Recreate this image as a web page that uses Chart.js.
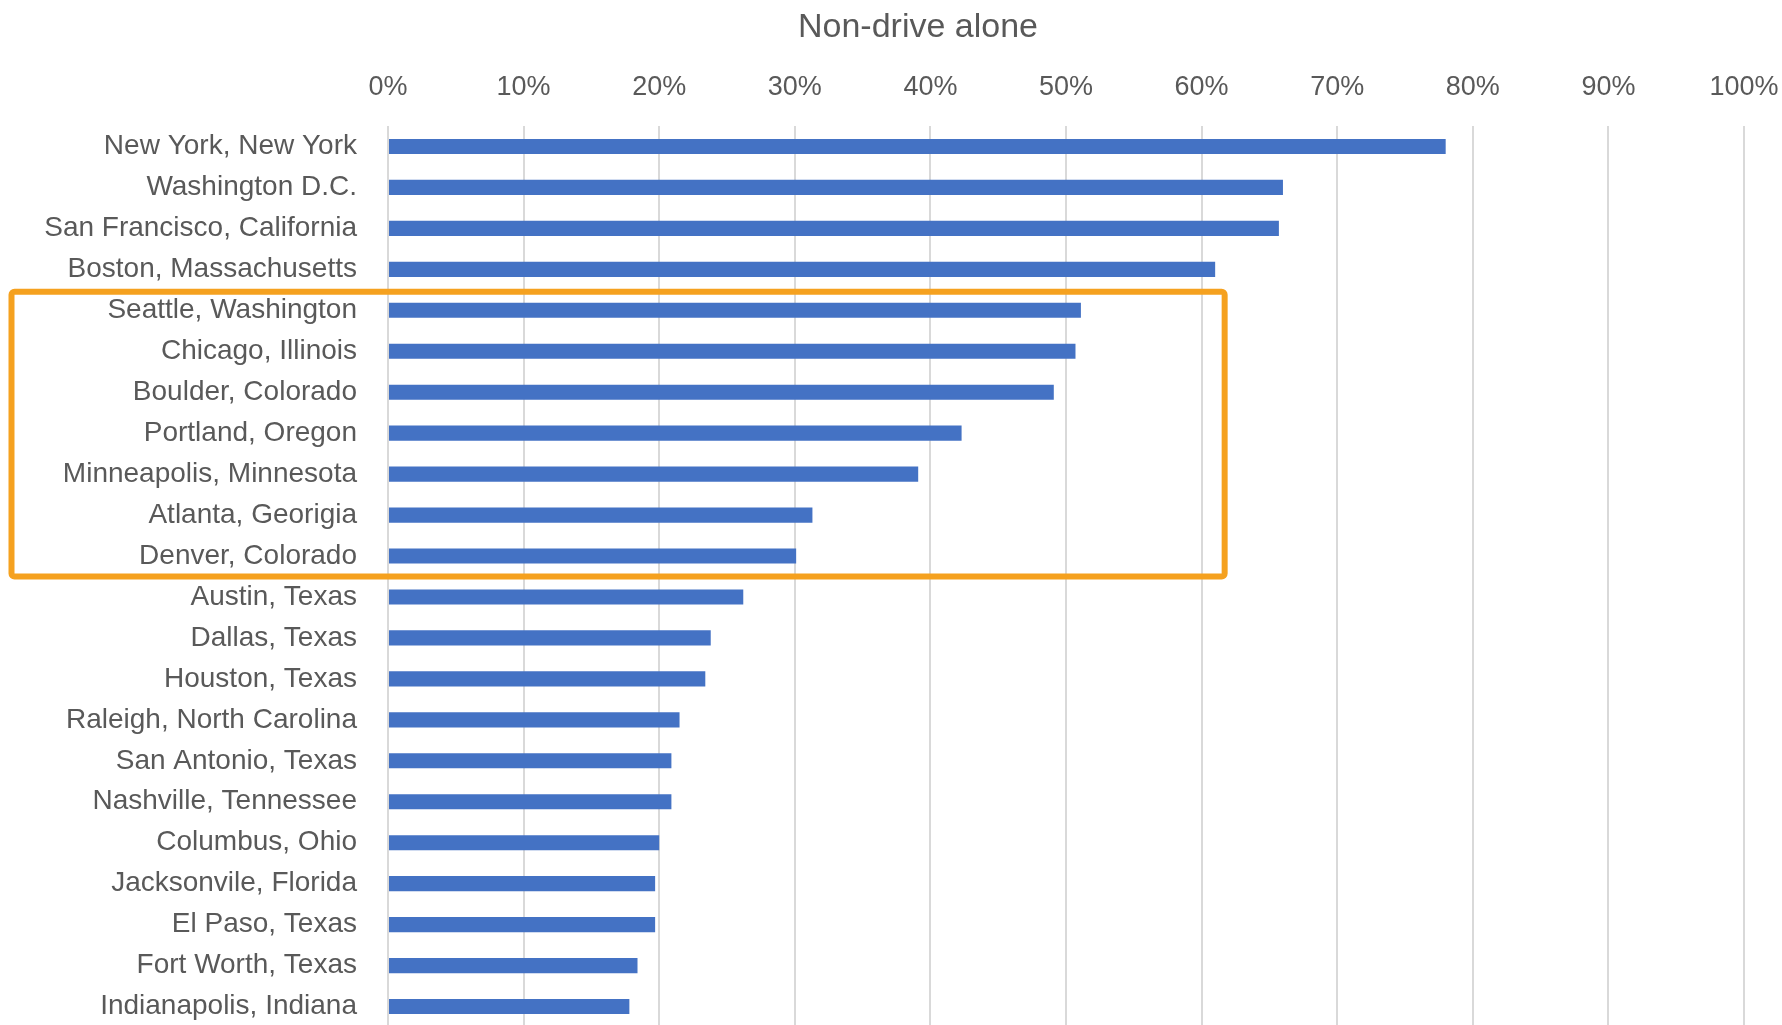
<!DOCTYPE html>
<html>
<head>
<meta charset="utf-8">
<script src="https://cdn.jsdelivr.net/npm/chart.js@4.4.1/dist/chart.umd.min.js"></script>
<style>
  html, body { margin: 0; padding: 0; background: #fff; overflow: hidden; }
  canvas { display: block; }
</style>
</head>
<body>
<canvas id="commuteChart" width="1782" height="1027"></canvas>
<script>
// Share of commuters who do not drive alone, by city

const chartTitle = "Non-drive alone";

const cities = [
  "New York, New York",
  "Washington D.C.",
  "San Francisco, California",
  "Boston, Massachusetts",
  "Seattle, Washington",
  "Chicago, Illinois",
  "Boulder, Colorado",
  "Portland, Oregon",
  "Minneapolis, Minnesota",
  "Atlanta, Georigia",
  "Denver, Colorado",
  "Austin, Texas",
  "Dallas, Texas",
  "Houston, Texas",
  "Raleigh, North Carolina",
  "San Antonio, Texas",
  "Nashville, Tennessee",
  "Columbus, Ohio",
  "Jacksonvile, Florida",
  "El Paso, Texas",
  "Fort Worth, Texas",
  "Indianapolis, Indiana",
];

// percent of commuters, non-drive alone
const nonDriveAlone = [
  78.0, 66.0, 65.7, 61.0, 51.1, 50.7, 49.1, 42.3, 39.1, 31.3, 30.1,
  26.2, 23.8, 23.4, 21.5, 20.9, 20.9, 20.0, 19.7, 19.7, 18.4, 17.8,
];

const percentTicks = [0, 10, 20, 30, 40, 50, 60, 70, 80, 90, 100];

// highlighted group (orange frame)
const highlightFirst = "Seattle, Washington";
const highlightLast = "Denver, Colorado";
const highlightRightValue = 61.7;

const textColor = "#595959";
const fontFamily = "'Liberation Sans', Arial, sans-serif";

// Orange frame around the highlighted cities + the chart title
const highlightFrame = {
  id: "highlightFrame",
  afterDatasetsDraw(chart) {
    const yScale = chart.scales.y;
    const xScale = chart.scales.x;
    const i0 = cities.indexOf(highlightFirst);
    const i1 = cities.indexOf(highlightLast);
    const top = (yScale.getPixelForValue(i0 - 1) + yScale.getPixelForValue(i0)) / 2 + 2;
    const bottom = (yScale.getPixelForValue(i1) + yScale.getPixelForValue(i1 + 1)) / 2;
    const left = 11.5;
    const right = xScale.getPixelForValue(highlightRightValue);
    const ctx = chart.ctx;
    ctx.save();
    ctx.strokeStyle = "#F5A11F";
    ctx.lineWidth = 6;
    ctx.lineJoin = "round";
    ctx.beginPath();
    ctx.roundRect(left, top, right - left, bottom - top, 3);
    ctx.stroke();

    // title sits a little right of the canvas centre, like the original
    ctx.fillStyle = textColor;
    ctx.font = "34px " + fontFamily;
    ctx.textAlign = "center";
    ctx.textBaseline = "middle";
    ctx.fillText(chartTitle, chart.width / 2 + 27, 28);
    ctx.restore();
  },
};

const ctx = document.getElementById("commuteChart").getContext("2d");

const commuteChart = new Chart(ctx, {
  type: "bar",
  data: {
    labels: cities,
    datasets: [
      {
        label: chartTitle,
        data: nonDriveAlone,
        backgroundColor: "#4472C4",
        borderWidth: 0,
        barPercentage: 0.37,
        categoryPercentage: 1,
      },
    ],
  },
  options: {
    indexAxis: "y",
    responsive: false,
    devicePixelRatio: 1,
    animation: false,
    layout: {
      padding: { top: 68, right: 0, left: 0, bottom: 0 },
    },
    plugins: {
      legend: { display: false },
      tooltip: { enabled: false },
      title: { display: false },
    },
    scales: {
      x: {
        position: "top",
        min: 0,
        max: 100,
        afterBuildTicks: (scale) => {
          scale.ticks = percentTicks.map((v) => ({ value: v }));
        },
        afterFit: (scale) => {
          scale.height = 58;
          scale.paddingLeft = 0;
          scale.paddingRight = 38;
        },
        grid: {
          color: "#D9D9D9",
          lineWidth: 2,
          drawTicks: false,
        },
        border: { display: false },
        ticks: {
          padding: 22,
          color: textColor,
          font: { family: fontFamily, size: 27 },
          callback: function (value) {
            return value + "%";
          },
        },
      },
      y: {
        afterFit: (scale) => {
          scale.width = 388;
          scale.paddingTop = 0;
          scale.paddingBottom = 0;
        },
        grid: { display: false, drawTicks: false },
        border: { display: false },
        ticks: {
          padding: 31,
          autoSkip: false,
          color: textColor,
          font: { family: fontFamily, size: 28 },
        },
      },
    },
  },
  plugins: [highlightFrame],
});
</script>
</body>
</html>
